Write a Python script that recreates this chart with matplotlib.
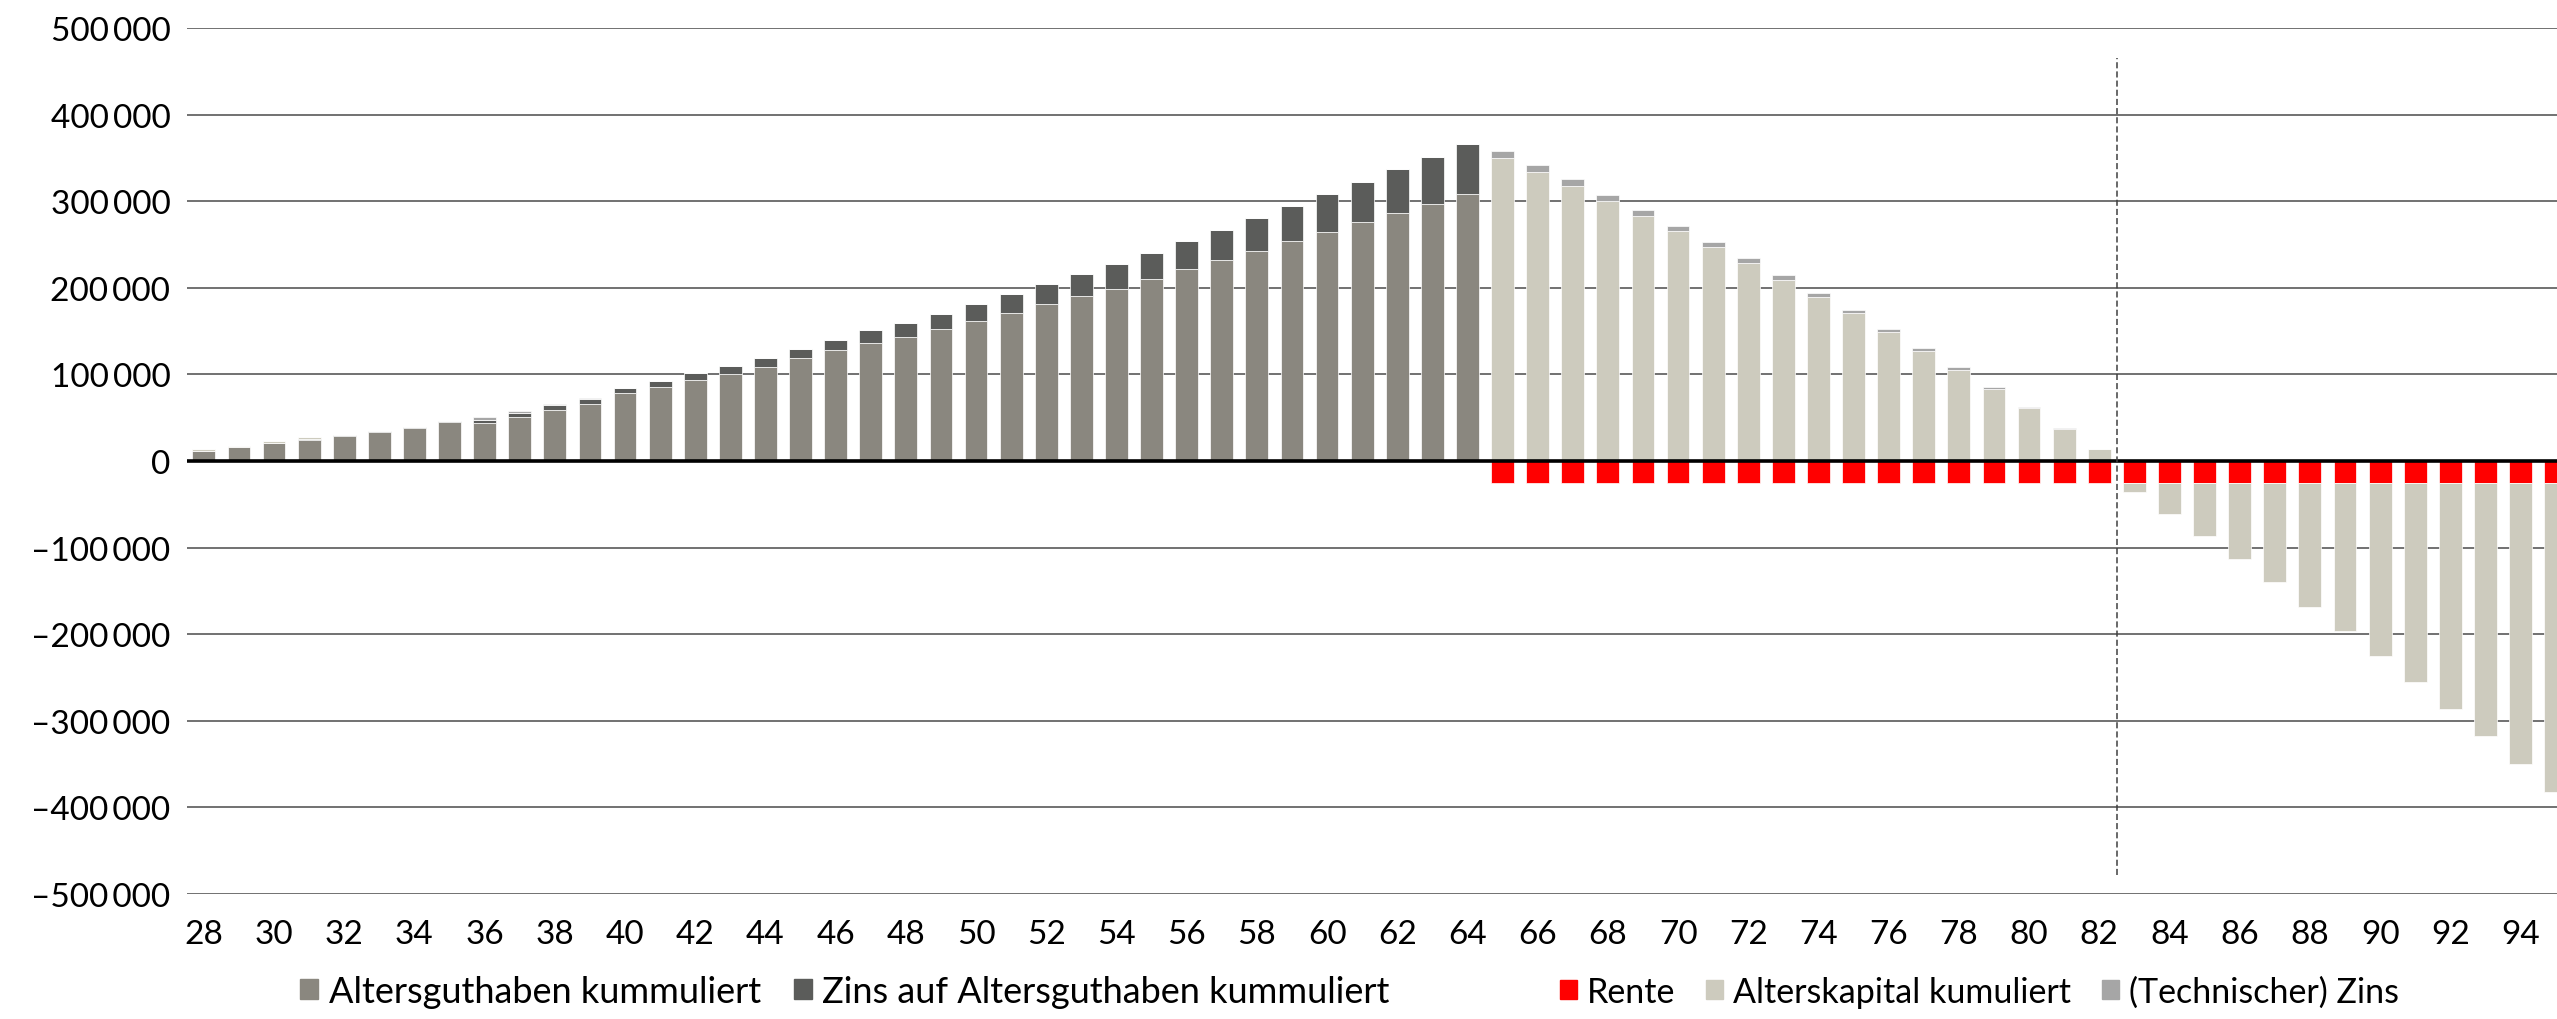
import numpy as np
import matplotlib
matplotlib.use("Agg")
import matplotlib.pyplot as plt
from matplotlib.patches import Patch
from matplotlib.ticker import FuncFormatter

plt.rcParams['font.family'] = ['Lato', 'DejaVu Sans']

# Alter 28..95
ages = np.arange(28, 96)

# Sparphase 28..64 (in Tausend CHF)
altersguthaben = [12.0, 16.2, 20.4, 24.2, 29.0, 33.7, 37.8, 44.5, 43.8, 51.3,
                  58.6, 65.9, 79.0, 85.9, 93.3, 100.2, 109.1, 118.7, 127.9, 136.4,
                  143.7, 153.0, 161.8, 170.7, 181.1, 190.4, 198.8, 210.0, 221.2, 232.0,
                  242.4, 254.0, 264.4, 275.5, 286.3, 296.7, 307.9]
zins_ag = [0.0, 0.0, 0.0, 1.0, 0.5, 0.8, 0.9, 1.8, 3.8, 3.8,
           6.0, 6.2, 5.8, 7.0, 8.0, 9.6, 10.4, 11.2, 12.4, 14.7,
           16.2, 17.3, 19.3, 22.0, 23.8, 25.4, 28.2, 30.5, 32.4, 35.1,
           38.6, 40.8, 44.3, 47.0, 50.5, 54.4, 57.8]
# kleine Restbeträge in der Sparphase
kapital_spar = [1.8, 1.6, 2.2, 2.6] + [0.0] * 33
tzins_spar = [0.0] * 8 + [3.5, 2.7, 0.7, 0.8] + [0.0] * 25

# Bezugsphase 65..95
alterskapital_bezug = [349.9, 334.1, 317.5, 300.6, 283.2, 265.1, 247.0, 228.1, 208.9, 189.2,
                       170.5, 149.2, 127.5, 105.4, 83.3, 61.2, 37.3, 13.8, -10.8, -36.2,
                       -61.9, -88.1, -115.0, -143.1, -171.5, -200.4, -230.4, -261.2, -292.7, -325.0,
                       -357.7]
tzins_bezug = [8.5, 8.1, 7.7, 6.9, 6.6, 6.2, 5.8, 5.8, 5.4, 5.0,
               3.5, 3.5, 3.1, 3.1, 2.0, 0.8, 0.8, 0.0, 0.0, 0.0,
               0.0, 0.0, 0.0, 0.0, 0.0, 0.0, 0.0, 0.0, 0.0, 0.0,
               0.0]
rente_bezug = [-25.0] * 31

n_bezug = len(alterskapital_bezug)
ag = np.array(altersguthaben + [0.0] * n_bezug) * 1000
zins = np.array(zins_ag + [0.0] * n_bezug) * 1000
ak = np.array(kapital_spar + alterskapital_bezug) * 1000
tz = np.array(tzins_spar + tzins_bezug) * 1000
rente = np.array([0.0] * len(altersguthaben) + rente_bezug) * 1000

c_ag = '#8a877f'
c_zins = '#5b5c5a'
c_rente = '#ff0000'
c_ak = '#cdcbbe'
c_tz = '#a6a6a6'

fig = plt.figure(figsize=(25.57, 10.2), dpi=100)
ax = fig.add_axes([187 / 2557, 1 - 895 / 1020, 1 - 187 / 2557, (895 - 29) / 1020])

w = 0.65
kw = dict(width=w, edgecolor='white', linewidth=0.5, zorder=2)
ax.bar(ages, ag, color=c_ag, **kw)
ax.bar(ages, zins, bottom=ag, color=c_zins, **kw)
ax.bar(ages, rente, color=c_rente, **kw)
ak_bottom = np.where(ak >= 0, ag + zins, rente)
ax.bar(ages, ak, bottom=ak_bottom, color=c_ak, **kw)
tz_bottom = ag + zins + np.clip(ak, 0, None)
ax.bar(ages, tz, bottom=tz_bottom, color=c_tz, **kw)

ax.axhline(0, color='black', lw=2.6, zorder=3)
ax.vlines(82.5, -478000, 465000, colors='#404040', linestyles=(0, (4, 2)), lw=1.1, zorder=3)

ax.set_xlim(27.52, 95.04)
ax.set_ylim(-500000, 500000)
ax.set_yticks(np.arange(-500000, 500001, 100000))
ax.set_xticks(np.arange(28, 95, 2))


def fmt(v, pos):
    s = f"{abs(int(v)):,}".replace(',', '\u2009')
    return ('\u2013' + s) if v < 0 else s


ax.yaxis.set_major_formatter(FuncFormatter(fmt))
ax.grid(axis='y', color='#595959', lw=1.2, zorder=0)
ax.set_axisbelow(True)
for sp in ax.spines.values():
    sp.set_visible(False)
ax.tick_params(axis='both', length=0, labelsize=24, colors='black')
ax.tick_params(axis='y', pad=12)
ax.tick_params(axis='x', pad=18)

leg_kw = dict(frameon=False, handlelength=0.5, handleheight=0.5,
              handletextpad=0.3, columnspacing=0.9, borderpad=0, borderaxespad=0)
h1 = [Patch(color=c_ag, label='Altersguthaben kummuliert'),
      Patch(color=c_zins, label='Zins auf Altersguthaben kummuliert')]
h2 = [Patch(color=c_rente, label='Rente'),
      Patch(color=c_ak, label='Alterskapital kumuliert'),
      Patch(color=c_tz, label='(Technischer) Zins')]
fig.legend(handles=h1, loc='center left', bbox_to_anchor=(300 / 2557, 0.027), ncol=2,
           fontsize=26, **leg_kw)
fig.legend(handles=h2, loc='center left', bbox_to_anchor=(1560 / 2557, 0.027), ncol=3,
           fontsize=24.5, **leg_kw)

fig.savefig('out.png', dpi=100)
